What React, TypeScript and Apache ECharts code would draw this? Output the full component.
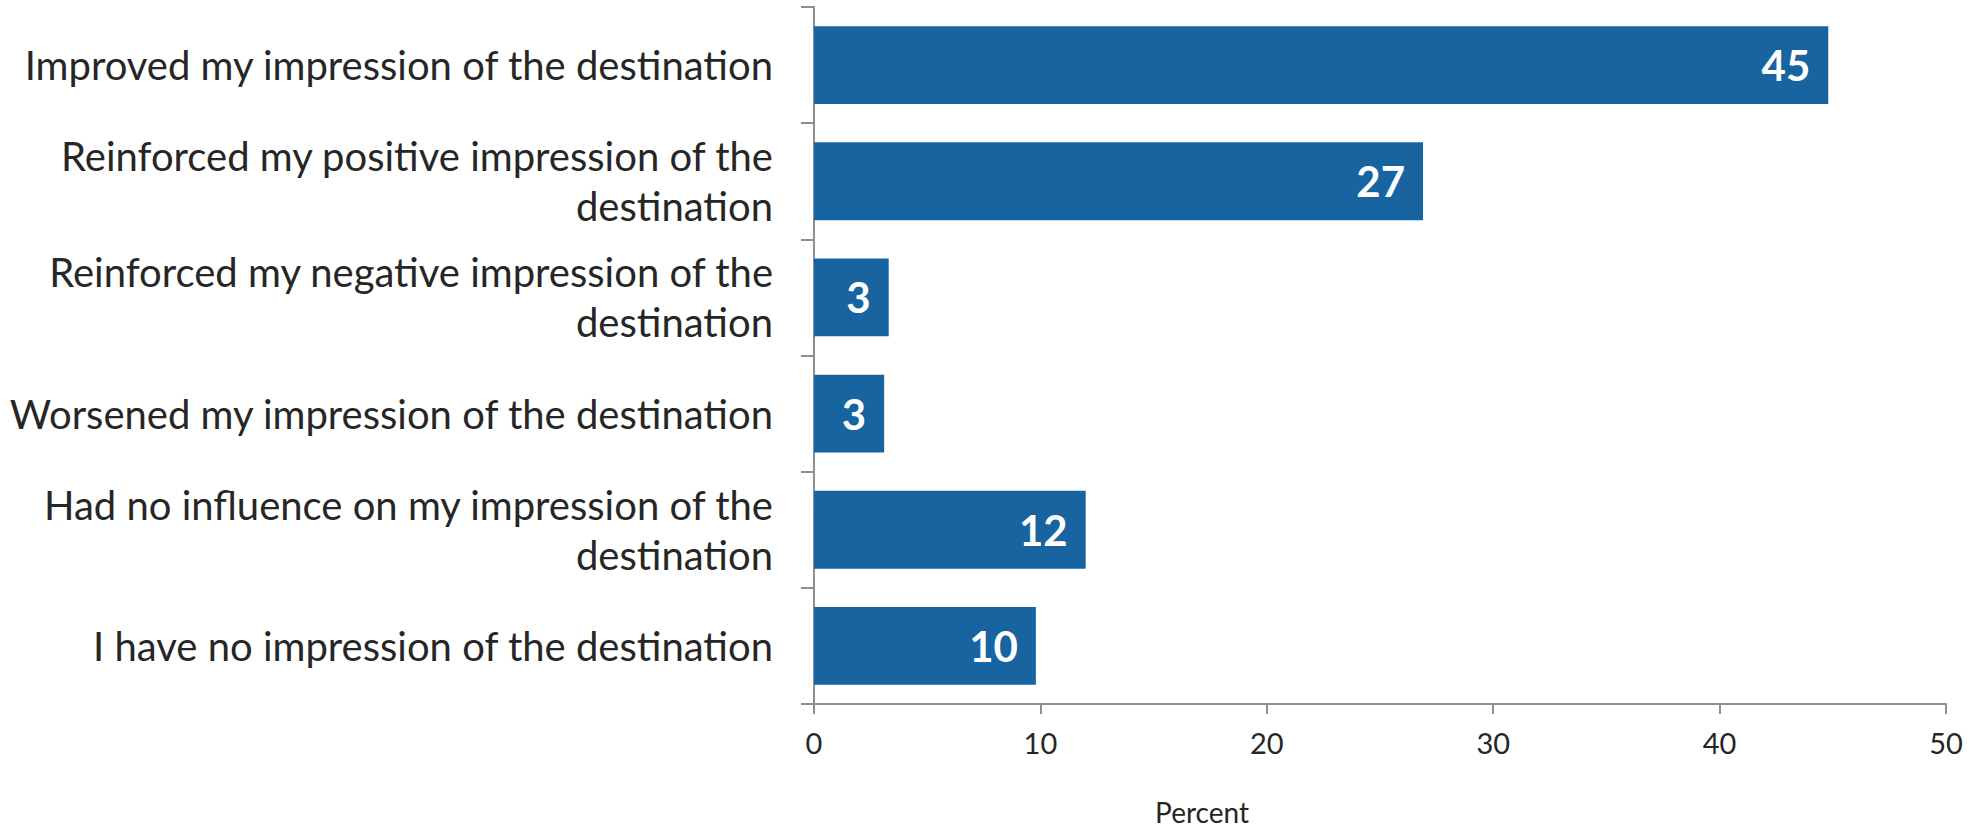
import React, { useEffect, useRef } from "react";
import * as echarts from "echarts";

const categories = [
  "Improved my impression of the destination",
  "Reinforced my positive impression of the\ndestination",
  "Reinforced my negative impression of the\ndestination",
  "Worsened my impression of the destination",
  "Had no influence on my impression of the\ndestination",
  "I have no impression of the destination",
];
const values = [44.8, 26.9, 3.3, 3.1, 12.0, 9.8];
const xTicks = [0, 10, 20, 30, 40, 50];
const axisName = "Percent";

const FONT = "Lato, 'Open Sans', sans-serif";

export default function App() {
  const ref = useRef<HTMLDivElement>(null);
  useEffect(() => {
    if (!ref.current) return;
    const chart = echarts.init(ref.current, null, { renderer: "svg" });
    chart.setOption({
      animation: false,
      backgroundColor: "#ffffff",
      grid: { left: 814, right: 28, top: 7, bottom: 127, containLabel: false },
      xAxis: {
        type: "value",
        min: xTicks[0],
        max: xTicks[xTicks.length - 1],
        interval: 10,
        splitLine: { show: false },
        axisLine: { show: true, lineStyle: { color: "#8f8f8f", width: 2 } },
        axisTick: { show: true, length: 10, lineStyle: { color: "#8f8f8f", width: 2 } },
        axisLabel: {
          margin: 24,
          fontSize: 29,
          color: "#262626",
          fontFamily: FONT,
        },
      },
      yAxis: {
        type: "category",
        inverse: true,
        data: categories,
        axisLine: { show: true, lineStyle: { color: "#8f8f8f", width: 2 } },
        axisTick: { show: true, length: 13, alignWithLabel: false, lineStyle: { color: "#8f8f8f", width: 2 } },
        axisLabel: {
          margin: 41,
          fontSize: 40,
          lineHeight: 50,
          color: "#262626",
          fontFamily: FONT,
          align: "right",
        },
      },
      graphic: [
        {
          type: "text",
          x: 1202,
          y: 812,
          style: {
            text: axisName,
            fontSize: 28,
            fontFamily: FONT,
            fill: "#262626",
            textAlign: "center",
            textVerticalAlign: "middle",
          },
        },
      ],
      series: [
        {
          type: "bar",
          data: values,
          barCategoryGap: "33%",
          itemStyle: { color: "#1764a0" },
          label: {
            show: true,
            position: "insideRight",
            distance: 18,
            color: "#ffffff",
            fontWeight: "bold",
            fontSize: 42,
            fontFamily: FONT,
            formatter: (p: any) => String(Math.round(p.value)),
          },
        },
      ],
    });
    return () => chart.dispose();
  }, []);
  return (
    <div
      ref={ref}
      style={{ position: "fixed", left: 0, top: 0, width: 1974, height: 831 }}
    />
  );
}
